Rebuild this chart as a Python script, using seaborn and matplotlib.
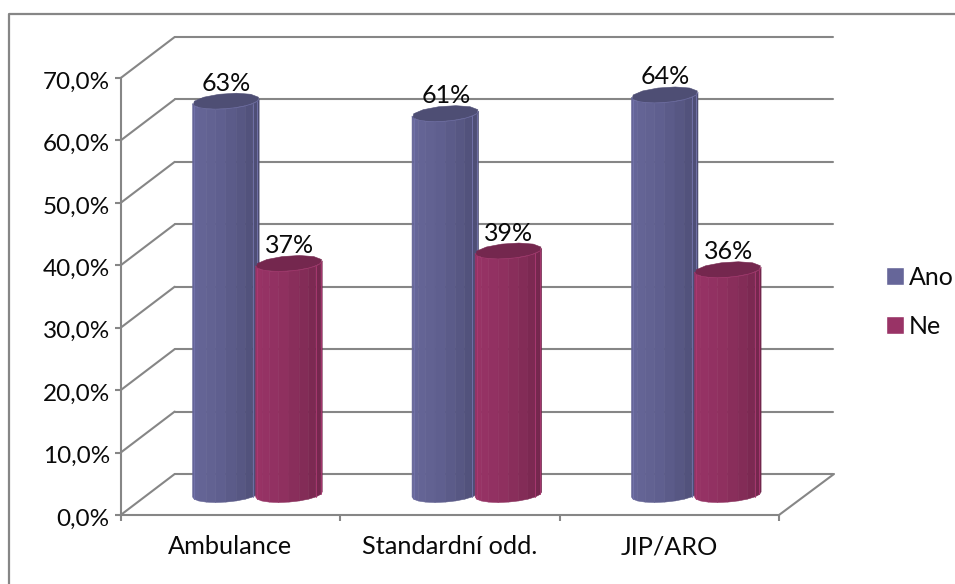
import numpy as np
import pandas as pd
import matplotlib
matplotlib.use("Agg")
import matplotlib.pyplot as plt
from matplotlib.lines import Line2D
from matplotlib.patches import Polygon
from matplotlib.transforms import Affine2D, IdentityTransform, ScaledTranslation
import seaborn as sns

# Survey shares per ward type
categories = ["Ambulance", "Standardní odd.", "JIP/ARO"]
ano_values = [63, 61, 64]
ne_values = [37, 39, 36]
series_names = ["Ano", "Ne"]
y_ticks = [0, 10, 20, 30, 40, 50, 60, 70]
y_tick_labels = ["0,0%", "10,0%", "20,0%", "30,0%", "40,0%", "50,0%", "60,0%", "70,0%"]
palette = ["#666699", "#993366"]

GRID = "#868686"
TEXT = "#0a0a0a"
FONT = 18
W, H = 955, 584
DEPTH = (54.0, 41.0)      # screen offset of the back wall, in pixels
TUBE_DEPTH = (10.5, 8.0)  # depth radius of a cylinder, in pixels
FACETS = 10

sns.set_theme(style="white")
plt.rcParams["font.family"] = ["Lato", "DejaVu Sans"]

fig = plt.figure(figsize=(W / 100, H / 100), dpi=100, facecolor="white")
ax = fig.add_axes([120.7 / W, (H - 515) / H, (779 - 120.7) / W, (515 - 78) / H])
ax.patch.set_alpha(0)

df = pd.DataFrame({
    "kategorie": categories * 2,
    "podil": ano_values + ne_values,
    "odpoved": [series_names[0]] * 3 + [series_names[1]] * 3,
})
sns.barplot(data=df, x="kategorie", y="podil", hue="odpoved", palette=palette,
            width=0.575, gap=0, saturation=1, errorbar=None, ax=ax, legend=True)
ax.set_xlim(-0.5, 2.5)
ax.set_ylim(0, 70)
ax.set_xlabel("")
ax.set_ylabel("")

# Axis lines and ticks of the front plane
for side in ("top", "right"):
    ax.spines[side].set_visible(False)
for side in ("left", "bottom"):
    ax.spines[side].set_color(GRID)
    ax.spines[side].set_linewidth(1.5)
ax.set_yticks(y_ticks, labels=y_tick_labels)
ax.set_xticks([-0.5, 0.5, 1.5, 2.5], labels=[])
ax.set_xticks([0, 1, 2], labels=categories, minor=True)
ax.tick_params(axis="both", which="major", length=4.3, width=1.5, color=GRID,
               labelsize=FONT, labelcolor=TEXT, left=True, bottom=True)
ax.tick_params(axis="y", pad=3.5, labelsize=FONT - 0.5)
ax.tick_params(axis="x", which="minor", length=0, pad=14.5, labelsize=FONT + 0.2, labelcolor=TEXT)
for label in ax.get_yticklabels():
    label.set_transform(label.get_transform() + ScaledTranslation(0, -1.5 / 72, fig.dpi_scale_trans))

# Back wall and oblique side lines
back = ax.transData + Affine2D().translate(*DEPTH)
for v in y_ticks:
    ax.plot([-0.5, 2.5], [v, v], color=GRID, lw=1.5, transform=back, clip_on=False, zorder=0.5)
    a = ax.transData.transform((-0.5, v))
    ax.add_line(Line2D([a[0], a[0] + DEPTH[0]], [a[1], a[1] + DEPTH[1]], color=GRID, lw=1.5,
                       transform=IdentityTransform(), clip_on=False, zorder=0.6))
a = ax.transData.transform((2.5, 0))
ax.add_line(Line2D([a[0], a[0] + DEPTH[0] + 1], [a[1], a[1] + DEPTH[1]], color=GRID, lw=1.5,
                   transform=IdentityTransform(), clip_on=False, zorder=0.6))


def shade(colour, factor):
    rgb = np.array(matplotlib.colors.to_rgb(colour))
    return tuple(np.clip(rgb * factor, 0, 1))


def ring(cx, cy, r, angles):
    return np.column_stack((cx + r * np.cos(angles) + TUBE_DEPTH[0] * np.sin(angles),
                            cy + TUBE_DEPTH[1] * np.sin(angles)))


def draw_cylinder(bar, colour, order):
    left = bar.get_x()
    width = bar.get_width()
    x_mid = left + width / 2
    base = ax.transData.transform((x_mid, 0)) + np.array(DEPTH) / 2
    top = ax.transData.transform((x_mid, bar.get_height())) + np.array(DEPTH) / 2
    r = (ax.transData.transform((left + width, 0))[0] - ax.transData.transform((left, 0))[0]) / 2
    t0 = np.arctan2(TUBE_DEPTH[0], r)
    angles = np.linspace(np.pi + t0, 2 * np.pi + t0, FACETS + 1)
    low = ring(base[0], base[1], r, angles)
    high = ring(top[0], top[1], r, angles)
    span = low[-1, 0] - low[0, 0]
    for i in range(FACETS):
        pos = ((low[i, 0] + low[i + 1, 0]) / 2 - low[0, 0]) / span
        factor = np.interp(pos, [0, 0.45, 0.78, 1.0], [1.0, 0.93, 0.84, 0.74])
        quad = [low[i], low[i + 1], high[i + 1], high[i]]
        ax.add_patch(Polygon(quad, closed=True, facecolor=shade(colour, factor),
                             edgecolor=shade(colour, factor), lw=0.4,
                             transform=IdentityTransform(), clip_on=False, zorder=order))
    # Pale seams near the silhouette of the tube
    for i in (1, FACETS - 2, FACETS - 1):
        ax.add_line(Line2D([low[i, 0], high[i, 0]], [low[i, 1], high[i, 1]],
                           color=shade(colour, 1.12), lw=0.7, alpha=0.9,
                           transform=IdentityTransform(), clip_on=False, zorder=order + 0.01))
    lid = ring(top[0], top[1], r, np.linspace(0, 2 * np.pi, 13))
    ax.add_patch(Polygon(lid, closed=True, facecolor=shade(colour, 0.76), edgecolor=shade(colour, 0.76),
                         lw=0.4, transform=IdentityTransform(), clip_on=False, zorder=order + 0.02))
    ax.add_line(Line2D(high[:, 0], high[:, 1], color=shade(colour, 1.1),
                       lw=0.6, alpha=0.8, transform=IdentityTransform(), clip_on=False, zorder=order + 0.03))
    ax.text(top[0] + 0.5, top[1] + 18, f"{bar.get_height():.0f}%", transform=IdentityTransform(), ha="center",
            va="center", fontsize=FONT, color=TEXT, zorder=10, clip_on=False)


# Cylinders replace the flat bars, each drawn from its bar's height and position
for s, (container, colour) in enumerate(zip(ax.containers, palette)):
    for bar in container:
        bar.set_visible(False)
        draw_cylinder(bar, colour, 2 + s)

sns.move_legend(ax, "upper left", bbox_to_anchor=(885.5 / W, (H - 266) / H),
                bbox_transform=fig.transFigure, title=None, frameon=False,
                fontsize=FONT, handlelength=0.72, handleheight=0.72,
                handletextpad=0.22, labelspacing=1.03, borderpad=0, borderaxespad=0)
for text in ax.get_legend().get_texts():
    text.set_color(TEXT)

# Chart frame, running off the canvas at right and bottom
fig.add_artist(Line2D([9 / W, 9 / W, 1.0], [0, (H - 14) / H, (H - 14) / H], color=GRID, lw=1.6,
                      transform=fig.transFigure))

fig.savefig("out.png", dpi=100, facecolor="white")
